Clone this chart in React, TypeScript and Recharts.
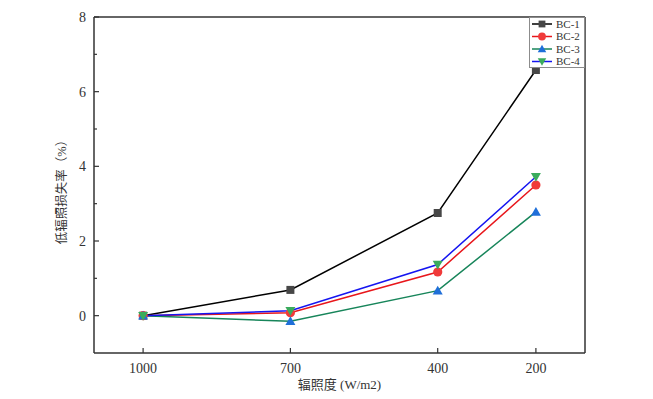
import { Line, LineChart, ReferenceLine, XAxis, YAxis } from "recharts";

const irradiance = [1000, 700, 400, 200];
const bc1 = [0, 0.69, 2.75, 6.58];
const bc2 = [0, 0.08, 1.17, 3.5];
const bc3 = [0, -0.15, 0.67, 2.78];
const bc4 = [0, 0.13, 1.37, 3.72];
const xTicks = [1000, 700, 400, 200];
const yTicks = [0, 1, 2, 3, 4, 5, 6, 7, 8];

const AXIS_COLOR = "#333333";
const SERIF = "'Liberation Serif', 'Noto Sans CJK SC', serif";

type Shape = "square" | "circle" | "triangle" | "down";

interface SeriesDef {
  key: string;
  name: string;
  line: string;
  marker: string;
  shape: Shape;
}

const seriesDefs: SeriesDef[] = [
  { key: "bc1", name: "BC-1", line: "#000000", marker: "#474747", shape: "square" },
  { key: "bc2", name: "BC-2", line: "#e8161b", marker: "#f03a3a", shape: "circle" },
  { key: "bc3", name: "BC-3", line: "#17855a", marker: "#1f6fd9", shape: "triangle" },
  { key: "bc4", name: "BC-4", line: "#1515f0", marker: "#3aab5c", shape: "down" }
];

const data = irradiance.map((x, i) => ({
  x,
  bc1: bc1[i],
  bc2: bc2[i],
  bc3: bc3[i],
  bc4: bc4[i]
}));

function Marker({ cx, cy, shape, fill, size = 1 }: { cx: number; cy: number; shape: Shape; fill: string; size?: number }) {
  if (shape === "square") {
    const s = 4 * size;
    return <rect x={cx - s} y={cy - s} width={s * 2} height={s * 2} fill={fill} />;
  }
  if (shape === "circle") {
    return <circle cx={cx} cy={cy} r={4.6 * size} fill={fill} />;
  }
  const h = 5 * size;
  if (shape === "triangle") {
    return <polygon points={`${cx},${cy - h} ${cx + h},${cy + h * 0.75} ${cx - h},${cy + h * 0.75}`} fill={fill} />;
  }
  return <polygon points={`${cx},${cy + h} ${cx + h},${cy - h * 0.75} ${cx - h},${cy - h * 0.75}`} fill={fill} />;
}

function makeDot(def: SeriesDef) {
  return (props: any) => {
    const { cx, cy, index } = props;
    if (cx == null || cy == null) {
      return <g key={`${def.key}-${index}`} />;
    }
    return (
      <g key={`${def.key}-${index}`}>
        <Marker cx={cx} cy={cy} shape={def.shape} fill={def.marker} />
      </g>
    );
  };
}

function YTick(props: any) {
  const { x, y, payload } = props;
  const value = payload.value as number;
  const major = value % 2 === 0;
  const axisX = x + 8;
  return (
    <g>
      <line x1={axisX} y1={y} x2={axisX + (major ? 5 : 3)} y2={y} stroke={AXIS_COLOR} strokeWidth={1.2} />
      {major ? (
        <text x={x} y={y} dy="0.35em" textAnchor="end" fontSize={14} fill="#333333" fontFamily={SERIF}>
          {value}
        </text>
      ) : null}
    </g>
  );
}

function XTick(props: any) {
  const { x, y, payload } = props;
  const axisY = y - 10;
  return (
    <g>
      <line x1={x} y1={axisY} x2={x} y2={axisY - 5} stroke={AXIS_COLOR} strokeWidth={1.2} />
      <text x={x} y={y} dy="0.71em" textAnchor="middle" fontSize={14} fill="#333333" fontFamily={SERIF}>
        {payload.value}
      </text>
    </g>
  );
}

function LegendBox() {
  return (
    <svg width={56} height={51} style={{ display: "block" }}>
      <rect x={0.5} y={0.5} width={55} height={50} fill="#ffffff" stroke="#8c8c8c" strokeWidth={1} />
      {seriesDefs.map((def, i) => {
        const cy = 7 + i * 12.5;
        return (
          <g key={def.key}>
            <line x1={3} y1={cy} x2={23} y2={cy} stroke={def.line} strokeWidth={1.5} />
            <Marker cx={13} cy={cy} shape={def.shape} fill={def.marker} size={0.85} />
            <text x={27} y={cy} dy="0.35em" fontSize={11} fill="#333333" fontFamily={SERIF}>
              {def.name}
            </text>
          </g>
        );
      })}
    </svg>
  );
}

export default function App() {
  return (
    <div style={{ position: "absolute", left: 0, top: 0, width: 653, height: 399, background: "#ffffff" }}>
      <LineChart width={653} height={399} data={data} margin={{ top: 17, right: 68, bottom: 0, left: 0 }}>
        <XAxis
          dataKey="x"
          type="number"
          domain={[100, 1100]}
          reversed
          ticks={xTicks}
          interval={0}
          height={46}
          tickMargin={4}
          tickLine={false}
          axisLine={{ stroke: AXIS_COLOR, strokeWidth: 1.5 }}
          tick={<XTick />}
          label={{ value: "辐照度 (W/m2)", position: "insideBottom", offset: 10, fontSize: 13, fill: "#333333", fontFamily: SERIF }}
        />
        <YAxis
          type="number"
          domain={[-1, 8]}
          ticks={yTicks}
          interval={0}
          width={94}
          tickLine={false}
          axisLine={{ stroke: AXIS_COLOR, strokeWidth: 1.5 }}
          tick={<YTick />}
          label={{ value: "低辐照损失率（%）", angle: -90, position: "insideLeft", offset: 62, dy: 4, fontSize: 12.5, fill: "#333333", fontFamily: SERIF, style: { textAnchor: "middle" } }}
        />
        <ReferenceLine y={8} stroke={AXIS_COLOR} strokeWidth={1.5} />
        <ReferenceLine x={100} stroke={AXIS_COLOR} strokeWidth={1.5} />
        {seriesDefs.map((def) => (
          <Line
            key={def.key}
            dataKey={def.key}
            name={def.name}
            type="linear"
            stroke={def.line}
            strokeWidth={1.5}
            dot={makeDot(def)}
            activeDot={false}
            isAnimationActive={false}
          />
        ))}
      </LineChart>
      <div style={{ position: "absolute", left: 529, top: 17 }}>
        <LegendBox />
      </div>
    </div>
  );
}
